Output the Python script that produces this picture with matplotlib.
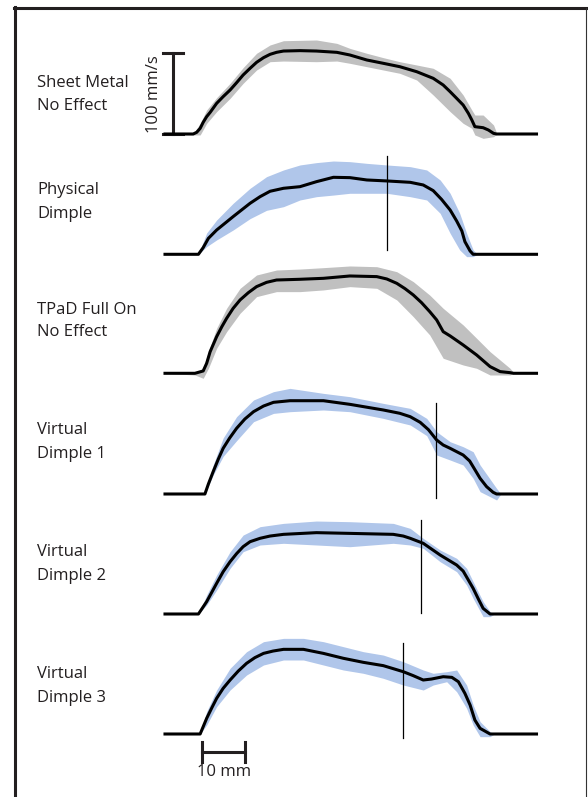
import matplotlib
matplotlib.use("Agg")
import matplotlib.pyplot as plt
from matplotlib.lines import Line2D

plt.rcParams['font.family'] = ['Open Sans', 'DejaVu Sans']

# mean trace: position (mm) and speed (mm/s)
sheet_x = [0, 6.5, 7.3, 8.1, 8.8, 9.6, 10.4, 11.9, 13.4, 15.0, 16.5, 18.0, 19.6, 21.1, 22.7, 24.2, 25.7, 27.3, 31.1, 34.9, 39.6, 42.6, 46.5, 50.3, 54.1, 58.0, 61.8, 64.1, 65.7, 67.2, 68.7, 69.9, 70.7, 71.4, 73.3, 74.5, 75.7, 76.4, 85.6]
sheet_v = [0, 0, 2.1, 7.0, 14.5, 21.5, 26.8, 38.0, 46.3, 54.5, 63.6, 73.1, 81.4, 88.8, 94.6, 98.7, 101.2, 102.8, 103.3, 102.8, 101.2, 97.9, 91.7, 87.6, 83.4, 77.2, 69.0, 60.7, 52.4, 44.2, 35.9, 25.6, 17.3, 9.1, 7.8, 5.0, 0.8, 0, 0]

phys_x = [0, 7.7, 8.8, 10.0, 11.9, 15.7, 19.6, 21.9, 24.2, 27.3, 31.1, 34.9, 38.8, 42.6, 46.5, 51.1, 56.5, 59.5, 61.8, 63.7, 65.7, 67.2, 68.4, 69.1, 70.3, 71.0, 85.6]
phys_v = [0, 0, 8.3, 19.8, 30.1, 46.7, 63.2, 71.4, 78.1, 81.8, 83.8, 90, 95.4, 95, 92.1, 90.9, 89.2, 85.9, 78.9, 68.2, 54.9, 41.3, 28.9, 15.7, 4.1, 0, 0]

tpad_x = [0, 6.9, 8.8, 9.6, 10.4, 11.9, 13.1, 14.2, 15.7, 17.3, 19.2, 21.1, 23.4, 25.7, 31.1, 36.5, 42.6, 48.8, 51.1, 53.4, 55.3, 57.2, 59.1, 61.0, 62.6, 64.1, 65.7, 68.7, 71.8, 74.9, 77.2, 79.5, 80.3, 85.6]
tpad_v = [0, 0, 2.9, 12.4, 26.8, 45.4, 57.8, 68.1, 80.5, 90.9, 99.9, 107.4, 112.7, 115.6, 116.5, 117.7, 120.6, 119.8, 116.9, 111.5, 104.9, 97.1, 87.6, 76.4, 66.1, 51.6, 46.3, 35.1, 22.7, 8.3, 2.1, 0.8, 0, 0]

vd1_x = [0, 9.2, 10.0, 11.1, 12.3, 13.4, 14.9, 16.5, 18.4, 20.4, 22.7, 25.0, 28.8, 36.5, 42.6, 50.3, 54.1, 56.5, 58.8, 60.7, 62.6, 64.1, 65.7, 68.7, 70.2, 71.4, 72.6, 74.1, 75.6, 76.4, 85.6]
vd1_v = [0, 0, 12.4, 27.7, 43.4, 56.6, 69.4, 81.4, 92.9, 102, 109, 113.6, 115.6, 115.6, 111.1, 104.1, 100, 95.8, 88.8, 79.7, 66.9, 60.7, 56.6, 48.3, 40.9, 30.2, 19.4, 9.1, 2.1, 0, 0]

vd2_x = [0, 7.7, 9.6, 11.9, 13.4, 15.0, 16.5, 18.0, 19.6, 21.9, 24.2, 27.3, 34.9, 42.6, 52.6, 54.9, 56.5, 59.5, 63.4, 67.2, 68.7, 69.9, 71.0, 72.2, 73.3, 74.9, 85.6]
vd2_v = [0, 0, 15.3, 38, 52.4, 64.8, 74.8, 83.4, 89.6, 93.8, 96.6, 98.7, 100.8, 99.9, 98.7, 96.6, 93.8, 87.6, 73.1, 60.7, 53.2, 42.1, 31.8, 18.6, 7, 0, 0]

vd3_x = [0, 8.1, 9.6, 10.8, 11.9, 13.4, 15.0, 16.9, 18.8, 20.7, 22.7, 24.9, 27.3, 31.9, 36.5, 41.1, 45.7, 50.3, 54.9, 57.2, 59.5, 61.4, 64.1, 66.1, 67.6, 69.1, 70.3, 71.4, 72.6, 74.9, 85.6]
vd3_v = [0, 0, 19.4, 32.6, 44.2, 56.6, 66.9, 78.1, 87.6, 94.6, 99.9, 102.8, 104.9, 104.9, 99.9, 93.8, 88.8, 84.7, 77.2, 72.3, 66.9, 68.1, 71, 70.2, 64.8, 50.4, 35.9, 17.3, 7, 0, 0]

# spread band: position (mm), upper and lower edge (mm/s)
sheet_bx = [0, 6.5, 8.1, 9.6, 11.9, 15.0, 18.0, 21.1, 24.2, 27.3, 34.9, 39.6, 42.6, 46.5, 50.3, 54.1, 58.0, 61.8, 65.7, 68.7, 70.7, 71.4, 73.3, 75.7, 76.5, 85.6]
sheet_hi = [0, 0, 13.2, 29.7, 45, 62.8, 82.2, 100, 110.3, 115.6, 116.5, 112.3, 106.1, 100, 94.6, 89.6, 85.5, 81.4, 69, 48.3, 29.7, 23.5, 23.5, 11.2, 0, 0]
sheet_lo = [0, -1.2, -1.2, 13.2, 27.7, 44.2, 62.8, 79.3, 89.6, 90.4, 89.6, 90.4, 87.6, 83.4, 79.3, 75.2, 66.9, 48.3, 27.7, 13.2, 7, -1.2, -5.4, -3.3, 0, 0]

phys_bx = [0, 7.7, 9.6, 11.9, 15.7, 19.6, 23.4, 27.3, 31.1, 34.9, 38.8, 42.6, 46.5, 51.1, 56.5, 60.3, 63.4, 65.7, 67.9, 69.5, 71.0, 72.0, 85.6]
phys_hi = [0, 0, 26.4, 42.5, 63.2, 81.8, 96.2, 104.5, 110.7, 113.6, 115.6, 114.8, 112.7, 110.7, 108.6, 104.5, 92.1, 75.6, 50.8, 26, 5.4, 0, 0]
phys_lo = [0, 0, 9.5, 17.8, 30.1, 44.2, 54.5, 59, 67.3, 71.4, 73.4, 75.6, 75.6, 75.6, 71.4, 67.3, 50.8, 26, 5.4, -2.9, -2.9, 0, 0]

tpad_bx = [0, 6.9, 8.8, 10.0, 11.9, 14.2, 17.3, 21.1, 25.7, 31.1, 36.5, 42.6, 48.8, 53.4, 57.2, 61.0, 64.1, 68.7, 71.8, 74.9, 79.5, 80.5, 85.6]
tpad_hi = [0, 0, 6.2, 26.8, 55.8, 80.6, 105.3, 121.8, 128, 129.2, 130.9, 133, 132.1, 125.9, 113.6, 96.9, 80.5, 59.9, 43.4, 26.8, 6.2, 0, 0]
tpad_lo = [0, -2.1, -6.2, 6.2, 31, 51.6, 74.4, 95, 101.2, 101.2, 103.3, 107.4, 105.3, 90.9, 70.2, 47.5, 18.6, 10.3, 6.2, -2.1, -2.1, 0, 0]

vd1_bx = [0, 9.2, 11.1, 13.4, 16.5, 20.4, 25.0, 28.8, 36.5, 42.6, 50.3, 56.5, 60.3, 62.6, 65.7, 68.7, 71.0, 72.6, 76.4, 77.4, 85.6]
vd1_hi = [0, 0, 35.9, 69.4, 95.8, 116.5, 126.8, 130.9, 124.7, 120.6, 112.3, 106.1, 93.7, 77.2, 64.8, 58.6, 52.4, 35.9, 7, 0, 0]
vd1_lo = [0, 0, 23.5, 46.6, 66.1, 89.6, 99.9, 102, 104.1, 102, 93.7, 85.5, 72.3, 48.3, 42.1, 35.9, 19.4, 2.9, -7.4, 0, 0]

vd2_bx = [0, 7.7, 9.6, 11.9, 15.0, 18.0, 21.9, 27.3, 34.9, 42.6, 52.6, 56.5, 59.5, 63.4, 67.2, 69.5, 71.0, 73.3, 74.9, 75.9, 85.6]
vd2_hi = [0, 0, 23.5, 48.3, 77.2, 97.8, 108.2, 112.3, 115.2, 114.4, 112.3, 106.1, 93.7, 79.3, 69, 56.6, 40.1, 15.3, 2.9, 0, 0]
vd2_lo = [0, 0, 11.2, 29.7, 56.6, 77.2, 85.5, 87.6, 85.5, 83.4, 87.6, 85.5, 81.4, 64.8, 52.4, 35.9, 19.4, -3.3, -3.3, 0, 0]

vd3_bx = [0, 8.1, 9.6, 11.9, 15.0, 18.8, 22.7, 27.3, 31.9, 36.5, 41.1, 45.7, 50.3, 54.9, 59.5, 61.8, 64.9, 67.2, 69.5, 71.0, 72.6, 74.9, 75.9, 85.6]
vd3_hi = [0, 0, 27.7, 54.5, 81.4, 102, 114.4, 118.5, 118.5, 114.4, 108.2, 102, 97.8, 89.6, 79.3, 75.2, 77.2, 79.3, 60.7, 35.9, 15.3, 2.9, 0, 0]
vd3_lo = [0, 0, 11.2, 33.9, 54.5, 73.1, 85.5, 91.7, 91.7, 85.5, 79.3, 75.2, 69, 60.7, 54.5, 60.7, 64.8, 52.4, 31.8, 11.2, -3.3, -3.3, 0, 0]

labels = [("Sheet Metal", "No Effect"), ("Physical", "Dimple"), ("TPaD Full On", "No Effect"),
          ("Virtual", "Dimple 1"), ("Virtual", "Dimple 2"), ("Virtual", "Dimple 3")]

# dimple location (mm) and the span of the marker line (mm/s)
dimple_x = [None, 51.1, None, 62.4, 59.1, 54.8]
dimple_v0 = [None, 5.4, None, -4.5, 0.8, -5.4]
dimple_v1 = [None, 121.8, None, 112.3, 116.5, 112.3]

scale_speed = 100  # mm/s
scale_dist = 10    # mm

grey = '#c0c0c0'
blue = '#b0c6ea'
band_colors = [grey, blue, grey, blue, blue, blue]

lines = [(sheet_x, sheet_v), (phys_x, phys_v), (tpad_x, tpad_v),
         (vd1_x, vd1_v), (vd2_x, vd2_v), (vd3_x, vd3_v)]
bands = [(sheet_bx, sheet_hi, sheet_lo), (phys_bx, phys_hi, phys_lo), (tpad_bx, tpad_hi, tpad_lo),
         (vd1_bx, vd1_hi, vd1_lo), (vd2_bx, vd2_hi, vd2_lo), (vd3_bx, vd3_hi, vd3_lo)]

W, H = 588, 797
fig = plt.figure(figsize=(W / 100, H / 100), dpi=100)

# layout in pixels
baselines = [134, 254.3, 373.3, 494, 614, 734]
ypx = 0.807   # px per mm/s
xpx = 4.34    # px per mm
x0px = 165
ylo, yhi = -10, 140
xlo, xhi = -4, 88
text_base = [(87.3, 110), (194.5, 217.5), (313.5, 336.5), (434.5, 457.5), (556.5, 580.5), (678.5, 702.5)]
fs = 12
ink = '#231f20'

axes = []
for i in range(6):
    top = baselines[i] - yhi * ypx
    h = (yhi - ylo) * ypx
    left = x0px + xlo * xpx
    w = (xhi - xlo) * xpx
    ax = fig.add_axes([left / W, 1 - (top + h) / H, w / W, h / H])
    ax.set_xlim(xlo, xhi)
    ax.set_ylim(ylo, yhi)
    ax.axis('off')
    axes.append(ax)

    bx, hi, lo = bands[i]
    ax.fill_between(bx, lo, hi, color=band_colors[i], lw=0, zorder=1)
    x, v = lines[i]
    ax.plot(x, v, color='black', lw=2.2, zorder=3, solid_joinstyle='round')

    if dimple_x[i] is not None:
        ax.plot([dimple_x[i], dimple_x[i]], [dimple_v0[i], dimple_v1[i]], color='black', lw=0.9, zorder=4)

    l1, l2 = labels[i]
    fig.text(37 / W, 1 - text_base[i][0] / H, l1, fontsize=fs, va='baseline', ha='left', color=ink)
    fig.text(37 / W, 1 - text_base[i][1] / H, l2, fontsize=fs, va='baseline', ha='left', color=ink)

# speed scale bar on the first panel
ax = axes[0]
sbx = 1.9
ax.plot([sbx, sbx], [0, scale_speed], color=ink, lw=2.2, clip_on=False)
ax.plot([sbx - 2.3, sbx + 2.3], [scale_speed, scale_speed], color=ink, lw=2.2, clip_on=False)
ax.plot([sbx - 2.3, sbx + 2.3], [0, 0], color=ink, lw=2.2, clip_on=False)
ax.text(-2.6, scale_speed / 2, "100 mm/s", rotation=90, ha='center', va='center', fontsize=fs, color=ink)

# distance scale bar under the last panel
ax = axes[5]
sx = 8.5
sy = -22.3
ax.plot([sx, sx + scale_dist], [sy, sy], color=ink, lw=2.2, clip_on=False)
ax.plot([sx, sx], [sy - 11.8, sy + 11.8], color=ink, lw=2.2, clip_on=False)
ax.plot([sx + scale_dist, sx + scale_dist], [sy - 11.8, sy + 11.8], color=ink, lw=2.2, clip_on=False)
ax.text(sx + scale_dist / 2, -47, "10 mm", ha='center', va='center', fontsize=fs, color=ink, clip_on=False)

# frame around the figure
fig.add_artist(Line2D([14.7 / W, 14.7 / W], [0, 1 - 7 / H], color=ink, lw=2.2))
fig.add_artist(Line2D([13.6 / W, 586 / W], [1 - 8 / H, 1 - 8 / H], color=ink, lw=2.2))
fig.add_artist(Line2D([585.5 / W, 585.5 / W], [0, 1 - 8 / H], color='#333333', lw=0.8))

fig.savefig("out.png", dpi=100)
